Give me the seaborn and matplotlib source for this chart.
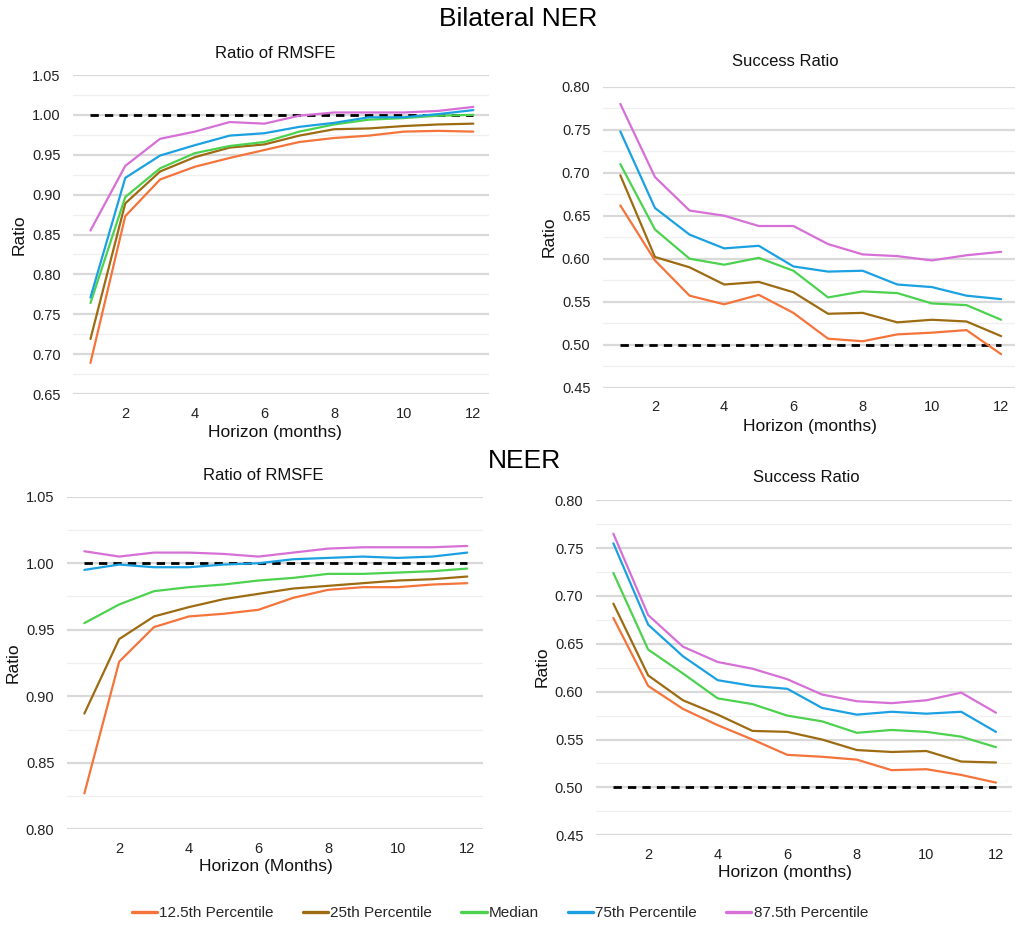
import numpy as np
import pandas as pd
import matplotlib
matplotlib.use("Agg")
import matplotlib.pyplot as plt
from matplotlib.ticker import MultipleLocator
from matplotlib.lines import Line2D
import seaborn as sns

# ---------------- data ----------------
horizon = list(range(1, 13))
series_names = ["12.5th Percentile", "25th Percentile", "Median", "75th Percentile", "87.5th Percentile"]
colors = ["#F4743B", "#9C6B12", "#4CD24F", "#1BA1E2", "#D670D6"]

# Bilateral NER - Ratio of RMSFE
bil_rmsfe_p125 = [0.689, 0.873, 0.919, 0.935, 0.946, 0.956, 0.966, 0.971, 0.974, 0.979, 0.980, 0.979]
bil_rmsfe_p25 = [0.719, 0.889, 0.929, 0.947, 0.959, 0.963, 0.974, 0.982, 0.983, 0.986, 0.988, 0.989]
bil_rmsfe_med = [0.764, 0.897, 0.933, 0.952, 0.961, 0.966, 0.979, 0.988, 0.994, 0.996, 0.999, 1.000]
bil_rmsfe_p75 = [0.771, 0.921, 0.949, 0.962, 0.974, 0.977, 0.985, 0.990, 0.997, 0.997, 1.001, 1.006]
bil_rmsfe_p875 = [0.855, 0.936, 0.970, 0.979, 0.991, 0.989, 0.999, 1.003, 1.003, 1.003, 1.005, 1.010]

# Bilateral NER - Success Ratio
bil_sr_p125 = [0.662, 0.598, 0.557, 0.547, 0.558, 0.537, 0.507, 0.504, 0.512, 0.514, 0.517, 0.489]
bil_sr_p25 = [0.697, 0.602, 0.590, 0.570, 0.573, 0.561, 0.536, 0.537, 0.526, 0.529, 0.527, 0.510]
bil_sr_med = [0.710, 0.634, 0.600, 0.593, 0.601, 0.586, 0.555, 0.562, 0.560, 0.548, 0.546, 0.529]
bil_sr_p75 = [0.748, 0.659, 0.628, 0.612, 0.615, 0.591, 0.585, 0.586, 0.570, 0.567, 0.557, 0.553]
bil_sr_p875 = [0.780, 0.695, 0.656, 0.650, 0.638, 0.638, 0.617, 0.605, 0.603, 0.598, 0.604, 0.608]

# NEER - Ratio of RMSFE
neer_rmsfe_p125 = [0.827, 0.926, 0.952, 0.960, 0.962, 0.965, 0.974, 0.980, 0.982, 0.982, 0.984, 0.985]
neer_rmsfe_p25 = [0.887, 0.943, 0.960, 0.967, 0.973, 0.977, 0.981, 0.983, 0.985, 0.987, 0.988, 0.990]
neer_rmsfe_med = [0.955, 0.969, 0.979, 0.982, 0.984, 0.987, 0.989, 0.992, 0.992, 0.993, 0.994, 0.996]
neer_rmsfe_p75 = [0.995, 0.999, 0.997, 0.997, 0.999, 1.000, 1.003, 1.004, 1.005, 1.004, 1.005, 1.008]
neer_rmsfe_p875 = [1.009, 1.005, 1.008, 1.008, 1.007, 1.005, 1.008, 1.011, 1.012, 1.012, 1.012, 1.013]

# NEER - Success Ratio
neer_sr_p125 = [0.677, 0.606, 0.582, 0.565, 0.550, 0.534, 0.532, 0.529, 0.518, 0.519, 0.513, 0.505]
neer_sr_p25 = [0.692, 0.617, 0.591, 0.576, 0.559, 0.558, 0.550, 0.539, 0.537, 0.538, 0.527, 0.526]
neer_sr_med = [0.724, 0.644, 0.619, 0.593, 0.587, 0.575, 0.569, 0.557, 0.560, 0.558, 0.553, 0.542]
neer_sr_p75 = [0.755, 0.670, 0.637, 0.612, 0.606, 0.603, 0.583, 0.576, 0.579, 0.577, 0.579, 0.558]
neer_sr_p875 = [0.765, 0.680, 0.647, 0.631, 0.624, 0.613, 0.597, 0.590, 0.588, 0.591, 0.599, 0.578]

ref_rmsfe = [1.0] * 12
ref_sr = [0.5] * 12

titles = ["Ratio of RMSFE", "Success Ratio", "Ratio of RMSFE", "Success Ratio"]
xlabels = ["Horizon (months)", "Horizon (months)", "Horizon (Months)", "Horizon (months)"]
ylabel = "Ratio"
main_titles = ["Bilateral NER", "NEER"]

# ---------------- style ----------------
sns.set_theme(style="white")
plt.rcParams["font.family"] = ["Liberation Sans", "DejaVu Sans"]

fig = plt.figure(figsize=(10.16, 9.26), dpi=100)

panels = [
    dict(rect=[0.0719, 0.5745, 0.4094, 0.3445], ylim=(0.65, 1.05), xmax=12.45,
         data=[bil_rmsfe_p125, bil_rmsfe_p25, bil_rmsfe_med, bil_rmsfe_p75, bil_rmsfe_p875], ref=ref_rmsfe),
    dict(rect=[0.5935, 0.5813, 0.4055, 0.3251], ylim=(0.45, 0.80), xmax=12.4,
         data=[bil_sr_p125, bil_sr_p25, bil_sr_med, bil_sr_p75, bil_sr_p875], ref=ref_sr),
    dict(rect=[0.0659, 0.1044, 0.4094, 0.3592], ylim=(0.80, 1.05), xmax=12.45,
         data=[neer_rmsfe_p125, neer_rmsfe_p25, neer_rmsfe_med, neer_rmsfe_p75, neer_rmsfe_p875], ref=ref_rmsfe),
    dict(rect=[0.5866, 0.0980, 0.4091, 0.3618], ylim=(0.45, 0.80), xmax=12.45,
         data=[neer_sr_p125, neer_sr_p25, neer_sr_med, neer_sr_p75, neer_sr_p875], ref=ref_sr),
]

for i, p in enumerate(panels):
    ax = fig.add_axes(p["rect"])
    rows = []
    for name, vals in zip(series_names, p["data"]):
        for h, v in zip(horizon, vals):
            rows.append({"Horizon": h, "Value": v, "Series": name})
    df = pd.DataFrame(rows)
    sns.lineplot(data=df, x="Horizon", y="Value", hue="Series", hue_order=series_names,
                 palette=colors, linewidth=1.6, ax=ax, legend=False, zorder=3)
    sns.lineplot(x=horizon, y=p["ref"], color="black", linewidth=2.0, ax=ax, zorder=2)
    ax.lines[-1].set_dashes([3, 2.2])
    ax.set_xlim(0.5, p["xmax"])
    ax.set_ylim(*p["ylim"])
    ax.yaxis.set_major_locator(MultipleLocator(0.05))
    ax.yaxis.set_minor_locator(MultipleLocator(0.025))
    ax.xaxis.set_major_locator(MultipleLocator(2))
    ax.xaxis.set_major_formatter(plt.FuncFormatter(lambda v, pos: f"{int(v)}" if v >= 1 else ""))
    ax.yaxis.set_major_formatter(plt.FuncFormatter(lambda v, pos: f"{v:.2f}"))
    ax.grid(axis="y", which="major", color="#D9D9D9", linewidth=1.6)
    ax.grid(axis="y", which="minor", color="#F0F0F0", linewidth=1.0)
    ax.grid(axis="x", visible=False)
    ax.set_axisbelow(True)
    for s in ax.spines.values():
        s.set_visible(False)
    ax.tick_params(axis="both", which="both", length=0, labelsize=10.5, colors="#222222")
    ax.tick_params(axis="y", pad=9)
    ax.tick_params(axis="x", pad=9)
    ax.set_xlabel("")
    ax.set_ylabel("")

H = 926.0
W = 1016.0
def fx(x):
    return x / W
def fy(y):
    return 1 - y / H

title_pos = [(275, 53), (785, 62), (263, 476), (806, 477)]
for t, (x, y) in zip(titles, title_pos):
    fig.text(fx(x), fy(y), t, ha="center", va="center", fontsize=12, color="#111111")

xl_pos = [(275, 433), (810, 427), (266, 867), (785, 872)]
for t, (x, y) in zip(xlabels, xl_pos):
    fig.text(fx(x), fy(y), t, ha="center", va="center", fontsize=12.5, color="#111111")

yl_pos = [(19, 235), (549, 237), (13, 663), (542, 667)]
for x, y in yl_pos:
    fig.text(fx(x), fy(y), ylabel, ha="center", va="center", rotation=90, fontsize=12.5, color="#111111")

fig.text(fx(518), fy(19), main_titles[0], ha="center", va="center", fontsize=19, color="black")
fig.text(fx(524), fy(461), main_titles[1], ha="center", va="center", fontsize=19, color="black")

handles = [Line2D([0], [0], color=c, linewidth=2.4) for c in colors]
fig.legend(handles, series_names, loc="center", bbox_to_anchor=(fx(500), fy(913)), ncol=5,
           frameon=False, handlelength=1.65, handletextpad=0.15, columnspacing=1.9,
           prop={"size": 11})

fig.savefig("out.png", dpi=100)
